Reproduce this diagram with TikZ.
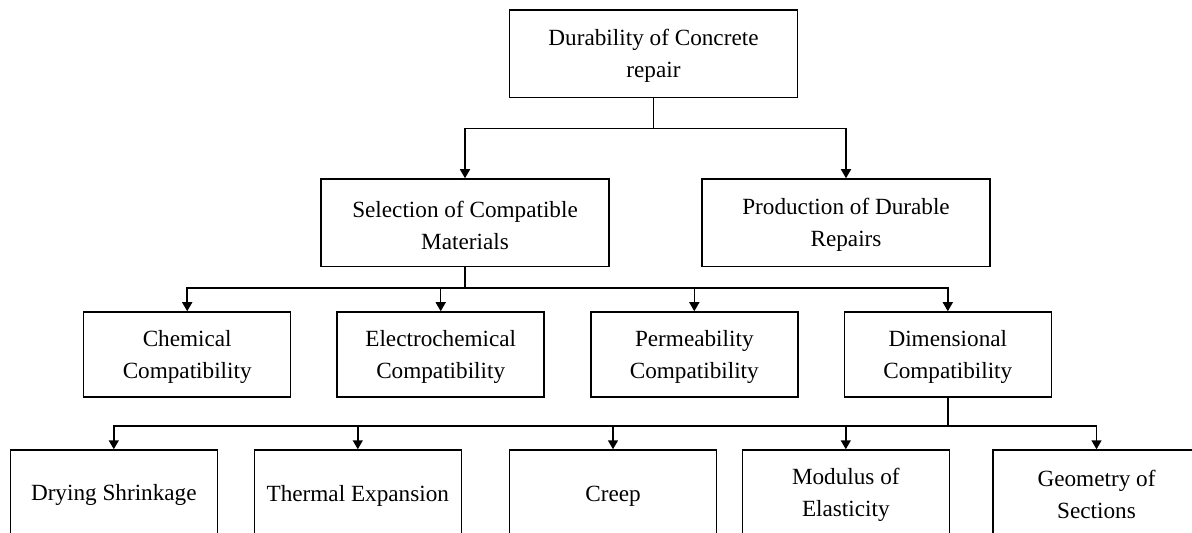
\documentclass[tikz,border=0pt]{standalone}
\usepackage{fontspec}
\setmainfont{Liberation Serif}
\usetikzlibrary{arrows.meta}

\tikzset{
    box/.style={draw, line width=0.75pt, rectangle, align=center, inner sep=0pt,
        text height=26.6pt, font=\fontsize{11.6}{16}\selectfont},
    bigbox/.style={box, minimum width=144pt, minimum height=43.75pt},
    smallbox/.style={box, minimum width=103.5pt, minimum height=42.5pt},
    oneline/.style={text height=11pt},
    link/.style={line width=0.75pt},
    arr/.style={link, -{Triangle[length=4.5pt, width=5pt]}}
}

\begin{document}
\begin{tikzpicture}[x=0.5pt, y=-0.5pt]
    \clip (0,0) rectangle (1192,533);

    % top level
    \node [bigbox] (top) at (653.5,53.75) {Durability of Concrete\\repair};

    % second level
    \node [bigbox] (sel) at (465,222.75) {Selection of Compatible\\Materials};
    \node [bigbox] (prod) at (846,222.75) {Production of Durable\\Repairs};

    % third level
    \node [smallbox] (chem) at (187.2,354.5) {Chemical\\Compatibility};
    \node [smallbox] (elec) at (440.7,354.5) {Electrochemical\\Compatibility};
    \node [smallbox] (perm) at (694.3,354.5) {Permeability\\Compatibility};
    \node [smallbox] (dim) at (947.8,354.5) {Dimensional\\Compatibility};

    % fourth level
    \node [smallbox, oneline] (dry) at (113.8,492.5) {Drying Shrinkage};
    \node [smallbox, oneline] (therm) at (357.8,492.5) {Thermal Expansion};
    \node [smallbox, oneline] (creep) at (613,492.5) {Creep};
    \node [smallbox] (mod) at (845.8,492.5) {Modulus of\\Elasticity};
    \node [smallbox] (geo) at (1096.5,492.5) {Geometry of\\Sections};

    \draw [link] (top.south) -- ++(0,30.5) coordinate (b1);
    \draw [arr] (b1) -| (sel.north);
    \draw [arr] (b1) -| (prod.north);

    \draw [link] (sel.south) -- ++(0,21) coordinate (b2);
    \foreach \n in {chem, elec, perm, dim}
        \draw [arr] (b2) -| (\n.north);

    \draw [link] (dim.south) -- ++(0,28.5) coordinate (b3);
    \foreach \n in {dry, therm, creep, mod, geo}
        \draw [arr] (b3) -| (\n.north);
\end{tikzpicture}
\end{document}
